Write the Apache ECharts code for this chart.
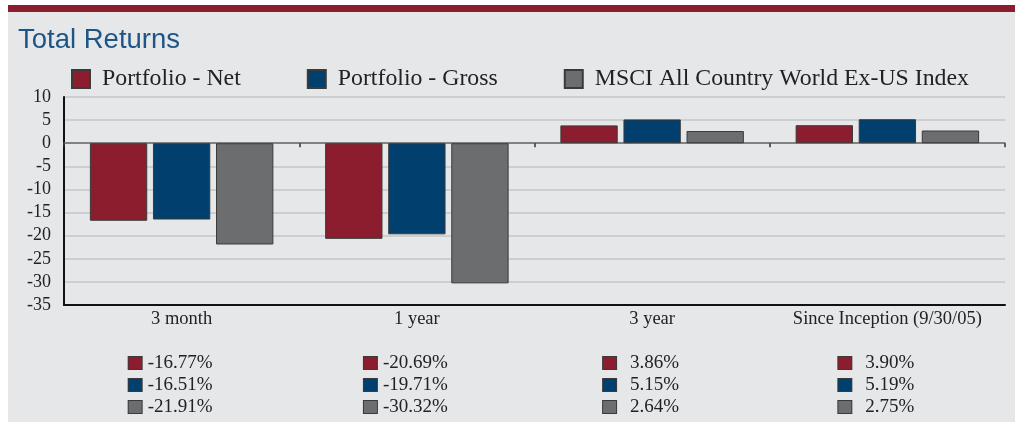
<!DOCTYPE html>
<html>
<head>
<meta charset="utf-8">
<script src="https://cdn.jsdelivr.net/npm/echarts@6/dist/echarts.min.js"></script>
<style>
  html, body { margin: 0; padding: 0; background: #ffffff; }
  #band { position: absolute; left: 8px; top: 5px; width: 1007px; height: 7px; background: #8b1d2e; }
  #chart { position: absolute; left: 8px; top: 12px; width: 1007px; height: 410px; }
</style>
</head>
<body>
<div id="band"></div>
<div id="chart"></div>
<script>
const categories = ['3 month', '1 year', '3 year', 'Since Inception (9/30/05)'];
const seriesNames = ['Portfolio - Net', 'Portfolio - Gross', 'MSCI All Country World Ex-US Index'];
const netValues = [-16.77, -20.69, 3.86, 3.90];
const grossValues = [-16.51, -19.71, 5.15, 5.19];
const indexValues = [-21.91, -30.32, 2.64, 2.75];
const colors = ['#8c1d2f', '#003f6e', '#6c6d6f'];
const yTicks = { min: -35, max: 10, interval: 5 };

const allValues = [netValues, grossValues, indexValues];
const serif = '"Liberation Serif", "Times New Roman", serif';

function fmt(v) { return v.toFixed(2) + '%'; }

const rich = {
  cat: { fontFamily: serif, fontSize: 18.5, color: '#222', lineHeight: 22, align: 'center' },
  blank: { lineHeight: 22, align: 'center' },
  sn: { width: 6, align: 'center' },
  sp: { width: 14, align: 'center' },
  tr: { width: 22, align: 'center' },
  v: { fontFamily: serif, fontSize: 19, color: '#222', lineHeight: 22, align: 'center' }
};
colors.forEach((c, i) => {
  rich['q' + i] = { width: 13, height: 12, backgroundColor: c, borderColor: '#3a3a3a', borderWidth: 1, align: 'center' };
});

const chart = echarts.init(document.getElementById('chart'));
chart.setOption({
  backgroundColor: '#e6e7e9',
  animation: false,
  title: {
    text: 'Total Returns',
    left: 5, top: 9,
    textStyle: { fontFamily: '"Liberation Sans", Arial, sans-serif', fontSize: 27.5, fontWeight: 'normal', color: '#1d5686' }
  },
  legend: {
    left: 58, top: 50,
    itemWidth: 18, itemHeight: 18, itemGap: 66,
    icon: 'rect',
    data: seriesNames,
    textStyle: { fontFamily: serif, fontSize: 23.8, color: '#222', padding: [0, 0, 0, 7] }
  },
  grid: { left: 56, right: 10, top: 85, bottom: 117 },
  xAxis: [{
    type: 'category',
    data: categories,
    axisLine: { onZero: false, lineStyle: { color: '#111', width: 2 } },
    axisTick: { show: false },
    axisLabel: {
      margin: 3,
      interval: 0,
      formatter: function (value, idx) {
        const lines = ['{cat|' + value + '}', '{blank| }'];
        allValues.forEach((arr, s) => {
          const v = arr[idx];
          lines.push('{q' + s + '|}' + (v < 0 ? '{sn|}' : '{sp|}') + '{v|' + fmt(v) + '}{tr|}');
        });
        return lines.join('\n');
      },
      rich: rich
    }
  }, {
    type: 'category',
    data: categories,
    position: 'bottom',
    axisLine: { onZero: true, lineStyle: { color: '#6a6a6a', width: 1.5 } },
    axisTick: { show: true, length: 4, lineStyle: { color: '#333', width: 1.5 } },
    axisLabel: { show: false }
  }],
  yAxis: {
    type: 'value',
    min: yTicks.min, max: yTicks.max, interval: yTicks.interval,
    axisLine: { show: true, lineStyle: { color: '#111', width: 2 } },
    axisTick: { show: false },
    axisLabel: { fontFamily: serif, fontSize: 18, color: '#222', margin: 13 },
    splitLine: { lineStyle: { color: '#cdcecf', width: 2 } }
  },
  series: seriesNames.map((name, i) => ({
    name: name,
    type: 'bar',
    data: allValues[i],
    barGap: '10%',
    barCategoryGap: '22%',
    itemStyle: { color: colors[i], borderColor: '#3a3a3a', borderWidth: 1 }
  }))
});
</script>
</body>
</html>
